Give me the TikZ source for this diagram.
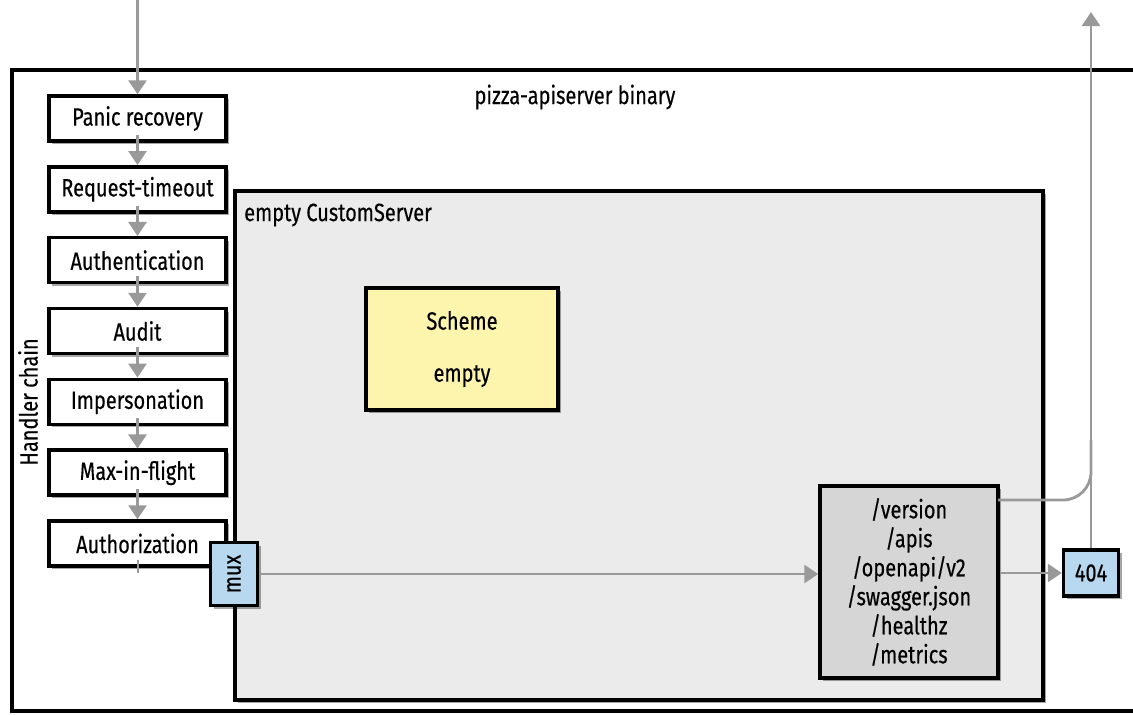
\documentclass[tikz,border=0pt]{standalone}
\usepackage{fontspec}
\setmainfont{Fira Sans}[FakeStretch=0.8,FakeBold=0.4]
\usetikzlibrary{shadows,arrows.meta}
\definecolor{arrgray}{HTML}{999999}
\definecolor{srvgray}{HTML}{EBEBEB}
\definecolor{routegray}{HTML}{D6D6D6}
\definecolor{schemey}{HTML}{FDF4AE}
\definecolor{muxblue}{HTML}{B8D8EF}
\tikzset{
  shad/.style={drop shadow={shadow xshift=3pt,shadow yshift=-3pt,opacity=0.35,fill=black}},
  hbox/.style={draw=black,line width=3.5pt,fill=white,minimum width=177pt,minimum height=45pt,inner sep=0pt,shad,font=\fontsize{25}{28}\selectfont},
  bluebox/.style={draw=black,line width=3.5pt,fill=muxblue,inner sep=0pt,shad,font=\fontsize{25}{28}\selectfont},
  arr/.style={draw=arrgray,line width=2.8pt,-{Triangle[length=14pt,width=18pt]}},
  gline/.style={draw=arrgray,line width=2.8pt},
  lbl/.style={font=\fontsize{25}{28}\selectfont,inner sep=0pt}
}
\begin{document}
\begin{tikzpicture}[x=1pt,y=-1pt]
\useasboundingbox (0,0) rectangle (1133,715);
% outer binary box
\draw[black,line width=3.5pt,fill=white] (1150,70) -- (12,70) -- (12,711) -- (1150,711);
\node[lbl] (title) at (575,97) {pizza-apiserver binary};
\node[lbl,rotate=90] (chain) at (28,402) {Handler chain};
% custom server
\node[draw=black,line width=3.8pt,fill=srvgray,minimum width=808pt,minimum height=509pt,inner sep=0pt,shad] (srv) at (639,445.5) {};
\node[lbl,anchor=west] (srvlbl) at (244,215) {empty CustomServer};
% scheme
\node[draw=black,line width=3.5pt,fill=schemey,minimum width=192pt,minimum height=122pt,inner sep=0pt,shad,align=center,font=\fontsize{25}{52}\selectfont] (scheme) at (462,349) {Scheme\\empty};
% handler chain
\node[hbox] (h1) at (137.5,118.5) {Panic recovery};
\node[hbox] (h2) at (137.5,189.3) {Request-timeout};
\node[hbox] (h3) at (137.5,260.2) {Authentication};
\node[hbox] (h4) at (137.5,331) {Audit};
\node[hbox] (h5) at (137.5,401.8) {Impersonation};
\node[hbox] (h6) at (137.5,472.7) {Max-in-flight};
\node[hbox] (h7) at (137.5,543.5) {Authorization};
\coordinate (in) at (137.5,0);
\coordinate (tick) at (137.5,573);
\draw[arr] (in) -- (h1.north);
\draw[arr] ([yshift=8pt]h1.south) -- (h2.north);
\draw[arr] ([yshift=8pt]h2.south) -- (h3.north);
\draw[arr] ([yshift=8pt]h3.south) -- (h4.north);
\draw[arr] ([yshift=8pt]h4.south) -- (h5.north);
\draw[arr] ([yshift=8pt]h5.south) -- (h6.north);
\draw[arr] ([yshift=8pt]h6.south) -- (h7.north);
\draw[gline,line width=2pt] ([yshift=8pt]h7.south) -- (tick);
% mux
\node[bluebox,minimum width=47pt,minimum height=63pt] (mux) at (234,574) {\rotatebox{90}{mux}};
% routes
\node[draw=black,line width=3.5pt,fill=routegray,minimum width=178pt,minimum height=192pt,inner sep=0pt,shad,align=center,font=\fontsize{25}{29}\selectfont] (routes) at (909,582) {/version\\/apis\\/openapi/v2\\/swagger.json\\/healthz\\/metrics};
% 404
\node[bluebox,minimum width=55pt,minimum height=46pt] (nf) at (1091,573) {404};
\draw[arr] (mux.east |- 0,574) -- (routes.west |- 0,574);
\draw[arr] (routes.east |- 0,573) -- (nf.west);
\coordinate (out) at (1091,12);
\coordinate (rv) at (998,500);
\draw[arr] (nf.north) -- (out);
\draw[gline,rounded corners=28pt] (rv) -- (1091,500) -- (1091,440);
\end{tikzpicture}
\end{document}
